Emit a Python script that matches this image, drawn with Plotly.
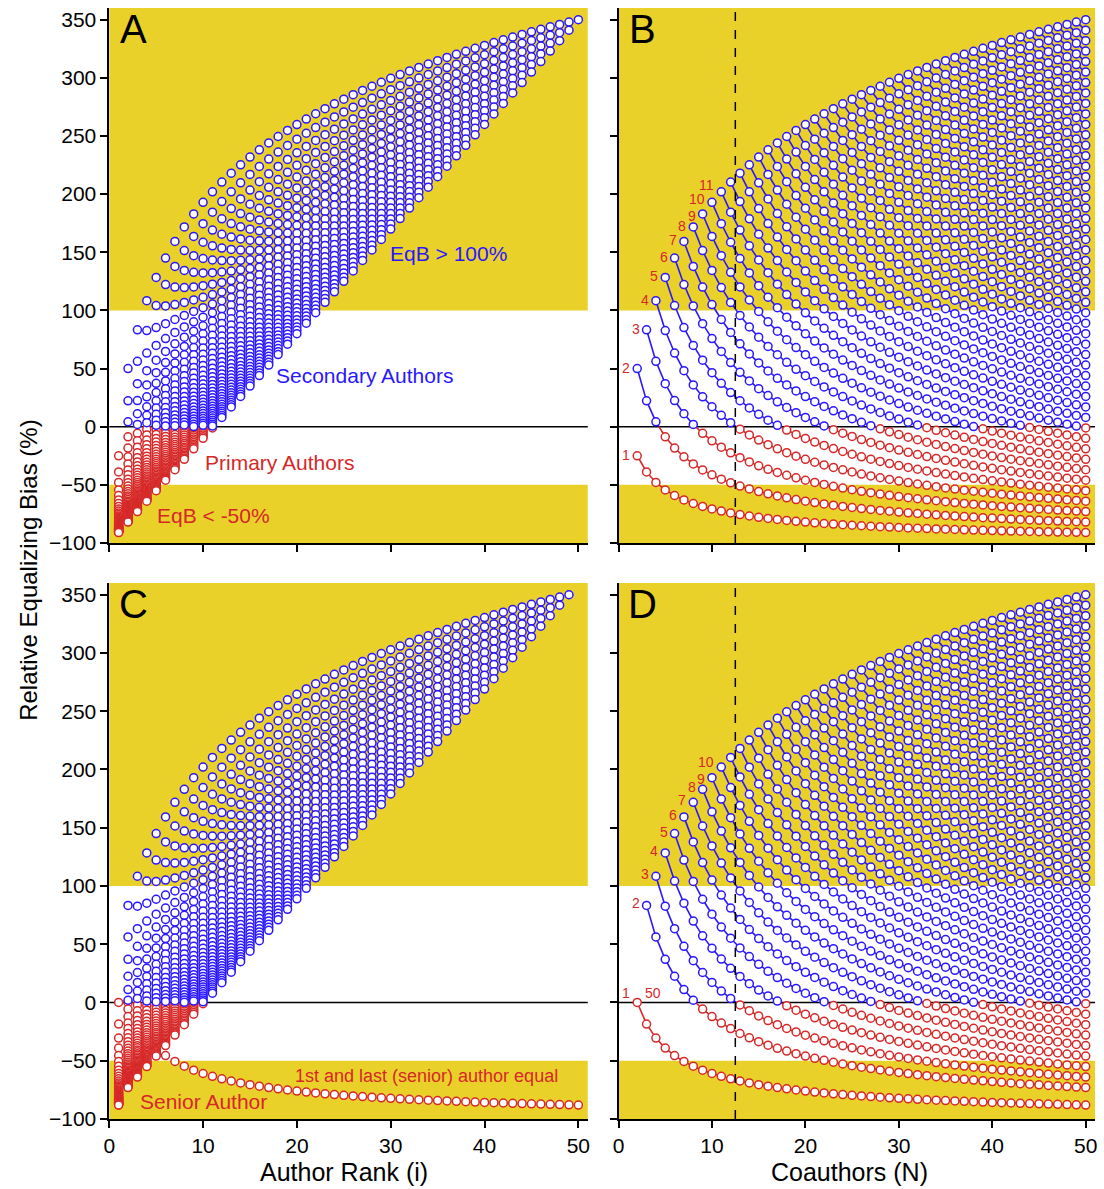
import plotly.graph_objects as go

# ---------------- data ----------------
max_authors = 50
coauthor_counts = list(range(2, max_authors + 1))          # N = 2..50
harmonic = [0.0]
for k in range(1, max_authors + 1):
    harmonic.append(harmonic[-1] + 1.0 / k)               # H_N

tie_weight = 0.75                                           # first & senior share ranks 1 and 2
dashed_N = [12.5]
y_ticks = [-100, -50, 0, 50, 100, 150, 200, 250, 300, 350]
x_ticks = [0, 10, 20, 30, 40, 50]
band_high = [100, 360]
band_low = [-100, -50]
labels_B = [str(i) for i in range(1, 12)]
labels_D = [str(i) for i in range(1, 11)]


def eqb_plain(i, N):
    return 100.0 * (i * harmonic[N] / N - 1.0)


def eqb_senior(pos, N):
    if pos == 1 or pos == N:
        return 100.0 * (harmonic[N] / (tie_weight * N) - 1.0)
    return 100.0 * ((pos + 1) * harmonic[N] / N - 1.0)


BLUE = "#2a17ff"
RED = "#d62828"
YEL = "#ead12a"
FONT = "Arial, Liberation Sans, sans-serif"

fig = go.Figure()


def add_markers(xs, ys, xa, ya):
    bx = [x for x, y in zip(xs, ys) if y > 1e-9]
    by = [y for y in ys if y > 1e-9]
    rx = [x for x, y in zip(xs, ys) if y <= 1e-9]
    ry = [y for y in ys if y <= 1e-9]
    for X, Y, c in ((rx, ry, RED), (bx, by, BLUE)):
        fig.add_trace(go.Scatter(x=X, y=Y, mode="markers", xaxis=xa, yaxis=ya,
                                 marker=dict(symbol="circle", size=8, color="white",
                                             line=dict(color=c, width=1.5)),
                                 showlegend=False, hoverinfo="skip"))


def add_lines(curves, xa, ya):
    bx, by, rx, ry = [], [], [], []
    for xs, ys in curves:
        for j in range(len(xs) - 1):
            x0, y0, x1, y1 = xs[j], ys[j], xs[j + 1], ys[j + 1]
            p0 = y0 > 1e-9
            p1 = y1 > 1e-9
            if p0 and p1:
                bx += [x0, x1, None]; by += [y0, y1, None]
            elif not p0 and not p1:
                rx += [x0, x1, None]; ry += [y0, y1, None]
            else:
                t = y0 / (y0 - y1)
                xc = x0 + t * (x1 - x0)
                if p0:
                    bx += [x0, xc, None]; by += [y0, 0, None]
                    rx += [xc, x1, None]; ry += [0, y1, None]
                else:
                    rx += [x0, xc, None]; ry += [y0, 0, None]
                    bx += [xc, x1, None]; by += [0, y1, None]
    for X, Y, c in ((rx, ry, RED), (bx, by, BLUE)):
        fig.add_trace(go.Scatter(x=X, y=Y, mode="lines", xaxis=xa, yaxis=ya,
                                 line=dict(color=c, width=1.6),
                                 showlegend=False, hoverinfo="skip"))


# Panel A: x = author rank
ax, ay = [], []
for N in coauthor_counts:
    for i in range(1, N + 1):
        ax.append(i); ay.append(eqb_plain(i, N))
add_markers(ax, ay, "x", "y")

# Panel B: x = number of coauthors, one curve per rank
curvesB = []
for i in range(1, max_authors + 1):
    Ns = [N for N in coauthor_counts if N >= i]
    curvesB.append((Ns, [eqb_plain(i, N) for N in Ns]))
add_lines(curvesB, "x2", "y2")
add_markers([x for c in curvesB for x in c[0]], [y for c in curvesB for y in c[1]], "x2", "y2")

# Panel C: senior author equal to first
cx, cy = [], []
for N in coauthor_counts:
    for p in range(1, N + 1):
        cx.append(p); cy.append(eqb_senior(p, N))
add_markers(cx, cy, "x3", "y3")

# Panel D
curvesD = [(coauthor_counts, [eqb_senior(1, N) for N in coauthor_counts])]
for p in range(2, max_authors):
    Ns = [N for N in coauthor_counts if N >= p + 1]
    curvesD.append((Ns, [eqb_senior(p, N) for N in Ns]))
add_lines(curvesD, "x4", "y4")
add_markers([x for c in curvesD for x in c[0]], [y for c in curvesD for y in c[1]], "x4", "y4")

# ---------------- layout ----------------
W, H = 1104, 1200
REF_H = 1189
xd = {"A": [104 / W, 586 / W], "B": [617 / W, 1097 / W]}
yd = {"top": [1 - 543 / REF_H, 1 - 8 / REF_H], "bot": [1 - 1119 / REF_H, 1 - 583 / REF_H]}

def xaxis(dom, anchor, labels):
    return dict(domain=dom, anchor=anchor, range=[0, 51], tickvals=x_ticks,
                showticklabels=labels, ticks="outside", ticklen=7, tickwidth=1.5,
                tickcolor="black", showline=True, linecolor="black", linewidth=1.5,
                showgrid=False, zeroline=False,
                tickfont=dict(family=FONT, size=21, color="black"))

def yaxis(dom, anchor, labels):
    return dict(domain=dom, anchor=anchor, range=[-100, 360], tickvals=y_ticks,
                showticklabels=labels, ticks="outside", ticklen=7, tickwidth=1.5,
                tickcolor="black", showline=True, linecolor="black", linewidth=1.5,
                showgrid=False, zeroline=False,
                tickfont=dict(family=FONT, size=21, color="black"))

fig.update_layout(
    width=W, height=H, margin=dict(l=0, r=0, t=0, b=0), autosize=False,
    paper_bgcolor="white", plot_bgcolor="white",
    xaxis=xaxis(xd["A"], "y", False), yaxis=yaxis(yd["top"], "x", True),
    xaxis2=xaxis(xd["B"], "y2", False), yaxis2=yaxis(yd["top"], "x2", False),
    xaxis3=xaxis(xd["A"], "y3", True), yaxis3=yaxis(yd["bot"], "x3", True),
    xaxis4=xaxis(xd["B"], "y4", True), yaxis4=yaxis(yd["bot"], "x4", False),
)

shapes = []
for k, (xa, ya) in enumerate([("x", "y"), ("x2", "y2"), ("x3", "y3"), ("x4", "y4")]):
    for band in (band_high, band_low):
        shapes.append(dict(type="rect", xref=xa + " domain", yref=ya, x0=0, x1=1,
                           y0=band[0], y1=band[1], fillcolor=YEL, line=dict(width=0),
                           layer="below"))
    shapes.append(dict(type="line", xref=xa + " domain", yref=ya, x0=0, x1=1, y0=0, y1=0,
                       line=dict(color="black", width=1.6), layer="below"))
    if k in (1, 3):
        shapes.append(dict(type="line", xref=xa, yref=ya + " domain", x0=dashed_N[0],
                           x1=dashed_N[0], y0=0, y1=1,
                           line=dict(color="black", width=1.5, dash="dash")))
fig.update_layout(shapes=shapes)

ann = []
for letter, xa, ya in (("A", "x", "y"), ("B", "x2", "y2"), ("C", "x3", "y3"), ("D", "x4", "y4")):
    ann.append(dict(text=letter, x=2.6, y=342, xref=xa, yref=ya, showarrow=False,
                    font=dict(family=FONT, size=40, color="black")))

def txt(t, x, y, xa, ya, c, s=21):
    ann.append(dict(text=t, x=x, y=y, xref=xa, yref=ya, showarrow=False,
                    font=dict(family=FONT, size=s, color=c)))

txt("EqB &gt; 100%", 36.2, 149, "x", "y", BLUE)
txt("Secondary Authors", 27.2, 44, "x", "y", BLUE)
txt("Primary Authors", 18.1, -31, "x", "y", RED)
txt("EqB &lt; -50%", 11.1, -76, "x", "y", RED)
txt("1st and last (senior) author equal", 33.8, -63, "x3", "y3", RED, 18)
txt("Senior Author", 10.0, -85, "x3", "y3", RED)

yshift_B = {9: -2, 10: 3, 11: 7}
for idx, lab in enumerate(labels_B):
    i = idx + 1
    N0 = max(i, 2)
    ann.append(dict(text=lab, x=N0, y=eqb_plain(i, N0), xref="x2", yref="y2",
                    showarrow=False, xanchor="right", xshift=-5, yshift=yshift_B.get(i, 1),
                    font=dict(family=FONT, size=14, color=RED)))
yshift_D = {1: 9, 9: -1, 10: 5}
for idx, lab in enumerate(labels_D):
    p = idx + 1
    N0 = p + 1
    ann.append(dict(text=lab, x=N0, y=eqb_senior(p, N0), xref="x4", yref="y4",
                    showarrow=False, xanchor="right", xshift=-5, yshift=yshift_D.get(p, 2),
                    font=dict(family=FONT, size=14, color=RED)))
ann.append(dict(text="50", x=2, y=eqb_senior(1, 2), xref="x4", yref="y4", showarrow=False,
                xanchor="left", xshift=6, yshift=9, font=dict(family=FONT, size=14, color=RED)))

ann.append(dict(text="Relative Equalizing Bias (%)", x=22 / W, y=1 - 570 / REF_H, xref="paper",
                yref="paper", showarrow=False, textangle=-90, xanchor="center", yanchor="middle",
                font=dict(family=FONT, size=24, color="black")))
ann.append(dict(text="Author Rank (i)", x=340 / W, y=1 - 1172 / REF_H, xref="paper", yref="paper",
                showarrow=False, xanchor="center", yanchor="middle",
                font=dict(family=FONT, size=25, color="black")))
ann.append(dict(text="Coauthors (N)", x=850 / W, y=1 - 1172 / REF_H, xref="paper", yref="paper",
                showarrow=False, xanchor="center", yanchor="middle",
                font=dict(family=FONT, size=25, color="black")))
fig.update_layout(annotations=ann)

fig.write_html("out.html", config={"responsive": False, "displayModeBar": False},
               post_script="document.body.style.margin='0px';document.body.style.overflow='hidden';")
